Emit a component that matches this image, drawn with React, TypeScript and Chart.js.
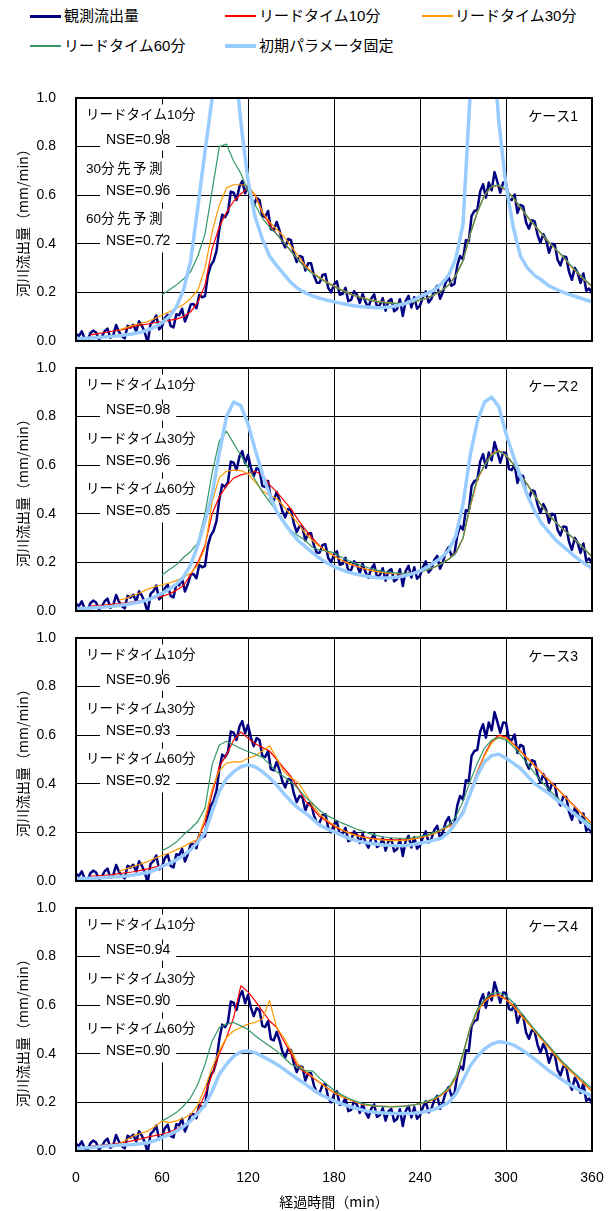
import React, { useEffect, useRef } from "react";
import { Chart, registerables } from "chart.js";

Chart.register(...registerables);

const FONT_LATIN = "'Liberation Sans', Arial, 'Noto Sans CJK JP', sans-serif";
const FONT_JP = "'Liberation Sans', 'Noto Sans CJK JP', sans-serif";
const FONT_CJK = "'Noto Sans CJK JP', sans-serif";

// ---------------- data ----------------
const X_TICKS = [0, 60, 120, 180, 240, 300, 360];
const Y_TICKS = [0, 0.2, 0.4, 0.6, 0.8, 1.0];

const SERIES_NAMES = ["観測流出量", "リードタイム10分", "リードタイム30分", "リードタイム60分", "初期パラメータ固定"];
const SERIES_COLORS = ["#000080", "#ff0000", "#ff9900", "#339966", "#99ccff"];

// observed discharge, every 2 min (0..360)
const OBS = [
  0.03, 0.02, 0.04, 0.01, 0.0, 0.032, 0.043, 0.035, 0.006, 0.018,
  0.04, 0.051, 0.013, 0.024, 0.066, 0.038, 0.02, 0.011, 0.063, 0.055,
  0.067, 0.039, 0.081, 0.063, 0.035, -0.007, 0.07, 0.082, 0.105, 0.048,
  0.06, 0.094, 0.108, 0.062, 0.056, 0.11, 0.106, 0.133, 0.08, 0.11,
  0.15, 0.152, 0.135, 0.19, 0.18, 0.185, 0.27, 0.31, 0.33, 0.37,
  0.46, 0.52, 0.51, 0.53, 0.615, 0.61, 0.58, 0.635, 0.658, 0.608,
  0.642, 0.59, 0.555, 0.588, 0.58, 0.515, 0.51, 0.535, 0.46, 0.455,
  0.49, 0.455, 0.41, 0.385, 0.42, 0.415, 0.36, 0.325, 0.35, 0.345,
  0.29, 0.32, 0.32, 0.27, 0.24, 0.24, 0.272, 0.275, 0.218, 0.2,
  0.233, 0.246, 0.19, 0.194, 0.219, 0.164, 0.169, 0.205, 0.191, 0.157,
  0.194, 0.16, 0.137, 0.174, 0.192, 0.14, 0.148, 0.176, 0.125, 0.164,
  0.173, 0.122, 0.132, 0.172, 0.103, 0.164, 0.186, 0.138, 0.18, 0.133,
  0.146, 0.18, 0.204, 0.159, 0.174, 0.21, 0.227, 0.174, 0.202, 0.242,
  0.263, 0.227, 0.235, 0.31, 0.35, 0.335, 0.415, 0.41, 0.515, 0.535,
  0.54, 0.615, 0.645, 0.59, 0.652, 0.62, 0.695, 0.655, 0.61, 0.652,
  0.65, 0.585, 0.58, 0.603, 0.527, 0.56, 0.554, 0.488, 0.462, 0.497,
  0.492, 0.438, 0.404, 0.44, 0.416, 0.363, 0.4, 0.397, 0.334, 0.311,
  0.348, 0.346, 0.284, 0.252, 0.301, 0.28, 0.239, 0.278, 0.207, 0.216,
  0.195,
];

// model series, every 5 min (0..360)
const N = null;
const C1_LT10 = [
  N, N, 0.025, 0.03, 0.035, 0.04, 0.045, 0.05, 0.06, 0.065, 0.07, 0.075,
  0.08, 0.085, 0.09, 0.1, 0.12, 0.16, 0.23, 0.38, 0.47, 0.53, 0.575, 0.605,
  0.63, 0.6, 0.53, 0.48, 0.44, 0.405, 0.37, 0.335, 0.305, 0.28, 0.26, 0.24,
  0.224, 0.21, 0.196, 0.185, 0.176, 0.168, 0.162, 0.158, 0.155, 0.154, 0.155, 0.16,
  0.168, 0.177, 0.19, 0.207, 0.23, 0.27, 0.33, 0.44, 0.53, 0.6, 0.636, 0.64,
  0.62, 0.59, 0.55, 0.51, 0.475, 0.44, 0.405, 0.375, 0.345, 0.31, 0.28, 0.25,
  0.224,
];
const C1_LT30 = [
  N, N, N, N, N, N, 0.045, 0.055, 0.065, 0.072, 0.08, 0.092,
  0.107, 0.12, 0.135, 0.15, 0.175, 0.21, 0.3, 0.45, 0.56, 0.63, 0.643, 0.643,
  0.64, 0.6, 0.53, 0.49, 0.46, 0.43, 0.39, 0.35, 0.31, 0.28, 0.262, 0.243,
  0.227, 0.212, 0.198, 0.187, 0.178, 0.17, 0.164, 0.16, 0.157, 0.155, 0.155, 0.16,
  0.168, 0.177, 0.19, 0.207, 0.23, 0.27, 0.33, 0.44, 0.53, 0.6, 0.636, 0.64,
  0.62, 0.59, 0.55, 0.51, 0.475, 0.44, 0.405, 0.375, 0.345, 0.31, 0.28, 0.25,
  0.224,
];
const C1_LT60 = [
  N, N, N, N, N, N, N, N, N, N, N, N,
  0.19, 0.21, 0.23, 0.255, 0.285, 0.35, 0.44, 0.62, 0.8, 0.81, 0.74, 0.69,
  0.615, 0.56, 0.505, 0.47, 0.44, 0.405, 0.37, 0.335, 0.3, 0.278, 0.258, 0.24,
  0.224, 0.21, 0.196, 0.186, 0.176, 0.168, 0.162, 0.158, 0.155, 0.155, 0.155, 0.16,
  0.168, 0.177, 0.19, 0.207, 0.23, 0.27, 0.33, 0.44, 0.53, 0.6, 0.636, 0.642,
  0.622, 0.592, 0.552, 0.512, 0.477, 0.442, 0.407, 0.377, 0.347, 0.312, 0.282, 0.252,
  0.226,
];
const C1_FIXED = [
  0.01, 0.01, 0.012, 0.014, 0.016, 0.019, 0.022, 0.026, 0.03, 0.036, 0.045, 0.058,
  0.075, 0.1, 0.14, 0.21, 0.33, 0.55, 0.78, 1.0, 1.25, 1.35, 1.2, 0.9,
  0.66, 0.51, 0.42, 0.35, 0.31, 0.275, 0.24, 0.215, 0.198, 0.186, 0.176, 0.168,
  0.162, 0.155, 0.149, 0.144, 0.141, 0.139, 0.137, 0.138, 0.141, 0.147, 0.155, 0.167,
  0.183, 0.196, 0.21, 0.235, 0.27, 0.34, 0.48, 1.02, 1.35, 1.4, 1.3, 0.9,
  0.64, 0.47, 0.35, 0.3, 0.27, 0.25, 0.227, 0.213, 0.2, 0.19, 0.18, 0.17,
  0.162,
];

const C2_LT10 = [
  N, N, 0.02, 0.022, 0.024, 0.027, 0.03, 0.034, 0.038, 0.043, 0.048, 0.054,
  0.06, 0.07, 0.085, 0.105, 0.15, 0.2, 0.27, 0.4, 0.47, 0.515, 0.547, 0.56,
  0.567, 0.574, 0.56, 0.52, 0.49, 0.455, 0.42, 0.375, 0.335, 0.3, 0.268, 0.245,
  0.227, 0.21, 0.196, 0.185, 0.176, 0.168, 0.162, 0.158, 0.155, 0.154, 0.154, 0.157,
  0.162, 0.169, 0.18, 0.195, 0.213, 0.24, 0.3, 0.43, 0.54, 0.6, 0.645, 0.66,
  0.64, 0.605, 0.56, 0.52, 0.475, 0.432, 0.395, 0.363, 0.335, 0.31, 0.283, 0.253,
  0.224,
];
const C2_LT30 = [
  N, N, N, N, N, N, 0.045, 0.052, 0.065, 0.075, 0.09, 0.1,
  0.108, 0.115, 0.125, 0.14, 0.155, 0.19, 0.26, 0.45, 0.55, 0.575, 0.58, 0.578,
  0.565, 0.53, 0.495, 0.475, 0.464, 0.43, 0.395, 0.36, 0.32, 0.29, 0.265, 0.245,
  0.227, 0.21, 0.196, 0.185, 0.176, 0.168, 0.162, 0.158, 0.155, 0.154, 0.154, 0.157,
  0.162, 0.169, 0.18, 0.195, 0.213, 0.24, 0.3, 0.43, 0.54, 0.6, 0.645, 0.66,
  0.64, 0.605, 0.56, 0.52, 0.475, 0.432, 0.395, 0.363, 0.335, 0.31, 0.283, 0.253,
  0.224,
];
const C2_LT60 = [
  N, N, N, N, N, N, N, N, N, N, N, N,
  0.148, 0.17, 0.19, 0.22, 0.245, 0.28, 0.4, 0.57, 0.7, 0.74, 0.69, 0.64,
  0.59, 0.54, 0.49, 0.45, 0.41, 0.37, 0.33, 0.31, 0.29, 0.262, 0.25, 0.247,
  0.24, 0.222, 0.208, 0.196, 0.186, 0.176, 0.168, 0.162, 0.158, 0.156, 0.155, 0.157,
  0.162, 0.169, 0.18, 0.195, 0.213, 0.238, 0.3, 0.437, 0.547, 0.6, 0.64, 0.657,
  0.643, 0.605, 0.56, 0.52, 0.475, 0.432, 0.395, 0.363, 0.335, 0.31, 0.283, 0.253,
  0.224,
];
const C2_FIXED = [
  0.01, 0.01, 0.012, 0.014, 0.016, 0.019, 0.023, 0.027, 0.032, 0.038, 0.046, 0.058,
  0.073, 0.09, 0.11, 0.14, 0.19, 0.27, 0.37, 0.48, 0.65, 0.8, 0.86, 0.845,
  0.77, 0.665, 0.565, 0.48, 0.41, 0.365, 0.325, 0.29, 0.265, 0.24, 0.217, 0.198,
  0.183, 0.17, 0.16, 0.152, 0.146, 0.141, 0.137, 0.136, 0.137, 0.14, 0.146, 0.154,
  0.165, 0.18, 0.2, 0.22, 0.25, 0.31, 0.44, 0.64, 0.78, 0.86, 0.88, 0.84,
  0.73, 0.64, 0.555, 0.475, 0.41, 0.36, 0.325, 0.29, 0.265, 0.24, 0.215, 0.195,
  0.176,
];

const C3_LT10 = [
  N, N, 0.02, 0.021, 0.023, 0.026, 0.03, 0.034, 0.038, 0.044, 0.05, 0.057,
  0.065, 0.074, 0.088, 0.105, 0.13, 0.175, 0.24, 0.36, 0.47, 0.52, 0.58, 0.613,
  0.588, 0.565, 0.55, 0.535, 0.5, 0.464, 0.43, 0.38, 0.33, 0.3, 0.265, 0.245,
  0.225, 0.21, 0.2, 0.19, 0.183, 0.177, 0.173, 0.171, 0.169, 0.169, 0.169, 0.173,
  0.178, 0.186, 0.196, 0.21, 0.224, 0.24, 0.29, 0.37, 0.45, 0.52, 0.575, 0.6,
  0.592, 0.565, 0.535, 0.505, 0.475, 0.445, 0.415, 0.385, 0.355, 0.325, 0.295, 0.265,
  0.238,
];
const C3_LT30 = [
  N, N, N, N, N, N, 0.04, 0.05, 0.06, 0.07, 0.08, 0.093,
  0.105, 0.115, 0.128, 0.142, 0.158, 0.172, 0.26, 0.38, 0.455, 0.485, 0.49, 0.49,
  0.505, 0.515, 0.535, 0.557, 0.505, 0.45, 0.425, 0.405, 0.36, 0.31, 0.275, 0.25,
  0.23, 0.212, 0.198, 0.188, 0.18, 0.175, 0.171, 0.168, 0.166, 0.166, 0.168, 0.172,
  0.178, 0.186, 0.196, 0.21, 0.224, 0.24, 0.285, 0.365, 0.445, 0.515, 0.568, 0.593,
  0.588, 0.562, 0.533, 0.503, 0.473, 0.443, 0.413, 0.383, 0.353, 0.323, 0.293, 0.263,
  0.236,
];
const C3_LT60 = [
  N, N, N, N, N, N, N, N, N, N, N, N,
  0.125, 0.14, 0.16, 0.19, 0.215, 0.245, 0.3, 0.48, 0.56, 0.575, 0.56, 0.545,
  0.533, 0.522, 0.51, 0.48, 0.45, 0.43, 0.408, 0.38, 0.345, 0.32, 0.29, 0.27,
  0.255, 0.24, 0.228, 0.215, 0.205, 0.195, 0.187, 0.181, 0.178, 0.176, 0.176, 0.179,
  0.183, 0.19, 0.2, 0.213, 0.23, 0.265, 0.327, 0.41, 0.485, 0.547, 0.58, 0.59,
  0.58, 0.553, 0.52, 0.482, 0.443, 0.408, 0.375, 0.347, 0.32, 0.295, 0.272, 0.25,
  0.23,
];
const C3_FIXED = [
  0.01, 0.01, 0.011, 0.012, 0.014, 0.016, 0.018, 0.021, 0.025, 0.03, 0.035, 0.045,
  0.06, 0.072, 0.087, 0.105, 0.128, 0.16, 0.2, 0.285, 0.37, 0.42, 0.45, 0.47,
  0.478, 0.47, 0.45, 0.425, 0.395, 0.36, 0.327, 0.3, 0.28, 0.255, 0.23, 0.215,
  0.203, 0.19, 0.176, 0.167, 0.16, 0.155, 0.151, 0.148, 0.146, 0.145, 0.146, 0.15,
  0.155, 0.161, 0.169, 0.176, 0.2, 0.24, 0.28, 0.36, 0.435, 0.49, 0.516, 0.522,
  0.505, 0.485, 0.464, 0.432, 0.4, 0.38, 0.36, 0.335, 0.315, 0.29, 0.265, 0.24,
  0.214,
];

const C4_LT10 = [
  N, N, 0.02, 0.022, 0.025, 0.028, 0.032, 0.037, 0.043, 0.05, 0.057, 0.063,
  0.069, 0.078, 0.09, 0.105, 0.124, 0.165, 0.234, 0.316, 0.4, 0.467, 0.55, 0.68,
  0.655, 0.618, 0.577, 0.536, 0.508, 0.453, 0.4, 0.343, 0.323, 0.302, 0.282, 0.26,
  0.24, 0.226, 0.213, 0.202, 0.192, 0.188, 0.185, 0.184, 0.183, 0.184, 0.185, 0.189,
  0.195, 0.203, 0.213, 0.23, 0.254, 0.302, 0.4, 0.508, 0.577, 0.618, 0.639, 0.643,
  0.625, 0.6, 0.563, 0.53, 0.495, 0.46, 0.426, 0.39, 0.357, 0.33, 0.302, 0.274,
  0.247,
];
const C4_LT30 = [
  N, N, N, N, N, N, 0.03, 0.045, 0.062, 0.072, 0.082, 0.1,
  0.124, 0.117, 0.124, 0.135, 0.15, 0.19, 0.26, 0.343, 0.412, 0.467, 0.495, 0.508,
  0.522, 0.529, 0.543, 0.62, 0.508, 0.467, 0.412, 0.357, 0.33, 0.305, 0.282, 0.26,
  0.24, 0.226, 0.213, 0.202, 0.192, 0.188, 0.185, 0.184, 0.183, 0.184, 0.185, 0.189,
  0.195, 0.203, 0.213, 0.23, 0.254, 0.3, 0.395, 0.505, 0.575, 0.615, 0.636, 0.64,
  0.622, 0.597, 0.56, 0.527, 0.492, 0.457, 0.423, 0.388, 0.355, 0.328, 0.3, 0.272,
  0.245,
];
const C4_LT60 = [
  N, N, N, N, N, N, N, N, N, N, N, N,
  0.124, 0.14, 0.158, 0.185, 0.22, 0.275, 0.357, 0.453, 0.508, 0.522, 0.529, 0.515,
  0.5, 0.474, 0.453, 0.432, 0.412, 0.385, 0.357, 0.343, 0.33, 0.33, 0.3, 0.275,
  0.25, 0.232, 0.217, 0.205, 0.195, 0.19, 0.185, 0.183, 0.181, 0.183, 0.185, 0.189,
  0.195, 0.205, 0.217, 0.235, 0.26, 0.309, 0.4, 0.508, 0.584, 0.625, 0.648, 0.652,
  0.639, 0.611, 0.574, 0.537, 0.5, 0.466, 0.433, 0.398, 0.364, 0.336, 0.309, 0.283,
  0.257,
];
const C4_FIXED = [
  0.01, 0.012, 0.014, 0.017, 0.02, 0.022, 0.024, 0.026, 0.027, 0.03, 0.034, 0.043,
  0.055, 0.067, 0.082, 0.1, 0.124, 0.155, 0.19, 0.247, 0.316, 0.357, 0.39, 0.408,
  0.412, 0.405, 0.39, 0.374, 0.357, 0.337, 0.316, 0.295, 0.275, 0.254, 0.234, 0.22,
  0.206, 0.195, 0.185, 0.176, 0.168, 0.162, 0.158, 0.156, 0.154, 0.154, 0.154, 0.155,
  0.158, 0.164, 0.172, 0.184, 0.2, 0.234, 0.29, 0.35, 0.39, 0.42, 0.44, 0.45,
  0.446, 0.437, 0.42, 0.4, 0.378, 0.354, 0.33, 0.31, 0.29, 0.272, 0.254, 0.24,
  0.227,
];

const P1_TEXT = ["リードタイム10分", "NSE=0.98", "30分先予測", "NSE=0.96", "60分先予測", "NSE=0.72"];
const P2_TEXT = ["リードタイム10分", "NSE=0.98", "リードタイム30分", "NSE=0.96", "リードタイム60分", "NSE=0.85"];
const P3_TEXT = ["リードタイム10分", "NSE=0.96", "リードタイム30分", "NSE=0.93", "リードタイム60分", "NSE=0.92"];
const P4_TEXT = ["リードタイム10分", "NSE=0.94", "リードタイム30分", "NSE=0.90", "リードタイム60分", "NSE=0.90"];
const CASE_LABELS = ["ケース1", "ケース2", "ケース3", "ケース4"];

const Y_TITLE = "河川流出量（mm/min）";
const X_TITLE = "経過時間（min）";

const T_OBS = OBS.map((_, i) => i * 2);
const T_MOD = C1_FIXED.map((_, i) => i * 5);

type Series = (number | null)[];
type PanelDef = { caseLabel: string; text: string[]; lt10: Series; lt30: Series; lt60: Series; fixed: Series };

const PANELS: PanelDef[] = [
  { caseLabel: CASE_LABELS[0], text: P1_TEXT, lt10: C1_LT10, lt30: C1_LT30, lt60: C1_LT60, fixed: C1_FIXED },
  { caseLabel: CASE_LABELS[1], text: P2_TEXT, lt10: C2_LT10, lt30: C2_LT30, lt60: C2_LT60, fixed: C2_FIXED },
  { caseLabel: CASE_LABELS[2], text: P3_TEXT, lt10: C3_LT10, lt30: C3_LT30, lt60: C3_LT60, fixed: C3_FIXED },
  { caseLabel: CASE_LABELS[3], text: P4_TEXT, lt10: C4_LT10, lt30: C4_LT30, lt60: C4_LT60, fixed: C4_FIXED },
];

// --------------- component ---------------
const TEXT_Y = [17.5, 41.7, 71, 93.4, 121.7, 143.4];

function drawLabel(ctx: CanvasRenderingContext2D, txt: string, x: number, y: number) {
  // leading digits tight, following kanji spaced (as in reference "30分先予測")
  const m = /^(\d+)(.*)$/.exec(txt);
  if (m) {
    (ctx as any).letterSpacing = "0px";
    ctx.fillText(m[1], x, y);
    const w0 = ctx.measureText(m[1]).width;
    (ctx as any).letterSpacing = "2.5px";
    ctx.fillText(m[2], x + w0, y);
    const w1 = ctx.measureText(m[2]).width;
    (ctx as any).letterSpacing = "0px";
    return w0 + w1;
  }
  (ctx as any).letterSpacing = "0px";
  ctx.fillText(txt, x, y);
  return ctx.measureText(txt).width;
}

function measureLabel(ctx: CanvasRenderingContext2D, txt: string) {
  const m = /^(\d+)(.*)$/.exec(txt);
  if (m) {
    (ctx as any).letterSpacing = "0px";
    const w0 = ctx.measureText(m[1]).width;
    (ctx as any).letterSpacing = "2.5px";
    const w1 = ctx.measureText(m[2]).width;
    (ctx as any).letterSpacing = "0px";
    return w0 + w1;
  }
  (ctx as any).letterSpacing = "0px";
  return ctx.measureText(txt).width;
}

function Panel({ def, top, height, showX }: { def: PanelDef; top: number; height: number; showX: boolean }) {
  const ref = useRef<HTMLCanvasElement>(null);
  useEffect(() => {
    const canvas = ref.current!;
    const mk = (t: number[], v: Series) => v.map((y, i) => ({ x: t[i], y }));

    const annot = {
      id: "annot",
      afterDatasetsDraw(chart: any) {
        const ctx: CanvasRenderingContext2D = chart.ctx;
        const a = chart.chartArea;
        ctx.save();
        ctx.textBaseline = "middle";
        ctx.textAlign = "left";
        def.text.forEach((txt, i) => {
          const isNse = i % 2 === 1;
          ctx.font = isNse ? `14px ${FONT_LATIN}` : `13.5px ${FONT_JP}`;
          const x = a.left + (isNse ? 30 : 10);
          const y = a.top + TEXT_Y[i];
          const w = isNse ? ctx.measureText(txt).width : measureLabel(ctx, txt);
          ctx.fillStyle = "#ffffff";
          if (isNse) ctx.fillRect(x - 6, y - 5, w + 12, 16);
          else ctx.fillRect(x - 4, y - 11, w + 8, 25);
          ctx.fillStyle = "#000000";
          if (isNse) ctx.fillText(txt, x, y);
          else drawLabel(ctx, txt, x, y);
        });
        (ctx as any).letterSpacing = "0px";
        ctx.font = `14px ${FONT_JP}`;
        ctx.textAlign = "right";
        ctx.fillText(def.caseLabel, a.right - 14, a.top + 19.5);

        ctx.strokeStyle = "#000";
        ctx.lineWidth = 2;
        ctx.strokeRect(a.left, a.top, a.right - a.left, a.bottom - a.top);
        ctx.restore();
      },
    };

    const chart = new Chart(canvas, {
      type: "line",
      data: {
        datasets: [
          { label: SERIES_NAMES[0], data: mk(T_OBS, OBS), borderColor: SERIES_COLORS[0], borderWidth: 2.5, order: 5 },
          { label: SERIES_NAMES[1], data: mk(T_MOD, def.lt10), borderColor: SERIES_COLORS[1], borderWidth: 1.2, order: 4 },
          { label: SERIES_NAMES[2], data: mk(T_MOD, def.lt30), borderColor: SERIES_COLORS[2], borderWidth: 1.2, order: 3 },
          { label: SERIES_NAMES[3], data: mk(T_MOD, def.lt60), borderColor: SERIES_COLORS[3], borderWidth: 1.2, order: 2 },
          { label: SERIES_NAMES[4], data: mk(T_MOD, def.fixed), borderColor: SERIES_COLORS[4], borderWidth: 3.5, order: 1 },
        ] as any,
      },
      options: {
        animation: false,
        responsive: false,
        maintainAspectRatio: false,
        events: [],
        elements: {
          point: { radius: 0 },
          line: { tension: 0, fill: false, borderJoinStyle: "round" },
        },
        layout: { padding: { left: 0, right: 24, top: 20, bottom: showX ? 0 : 7 } },
        plugins: { legend: { display: false }, tooltip: { enabled: false } },
        scales: {
          x: {
            type: "linear",
            min: 0,
            max: 360,
            afterBuildTicks: (s: any) => { s.ticks = X_TICKS.map((v) => ({ value: v })); },
            ticks: { display: showX, font: { size: 14, family: FONT_LATIN }, color: "#000", padding: 19, maxRotation: 0, autoSkip: false },
            grid: { color: "#000", lineWidth: 1, drawTicks: false },
            border: { display: false },
            title: { display: showX, text: X_TITLE, font: { size: 14, family: FONT_CJK }, color: "#000", padding: { top: 0, bottom: 1 } },
            afterFit: (s: any) => { s.height = showX ? 60 : 0; s.paddingLeft = 0; s.paddingRight = 0; },
          },
          y: {
            min: 0,
            max: 1,
            afterBuildTicks: (s: any) => { s.ticks = Y_TICKS.map((v) => ({ value: v })); },
            ticks: { callback: (v: any) => Number(v).toFixed(1), font: { size: 14, family: FONT_LATIN }, color: "#000", padding: 20 },
            grid: { color: "#000", lineWidth: 1, drawTicks: false },
            border: { display: false },
            title: { display: true, text: Y_TITLE, font: { size: 14, family: FONT_CJK }, color: "#000", padding: { top: 14, bottom: 0 } },
            afterFit: (s: any) => { s.width = 76; s.paddingTop = 0; s.paddingBottom = 0; },
          },
        },
      } as any,
      plugins: [annot as any],
    });
    return () => chart.destroy();
  }, [def, showX]);
  return (
    <canvas
      ref={ref}
      width={616}
      height={height}
      style={{ position: "absolute", left: 0, top, width: 616, height, display: "block" }}
    />
  );
}

const LEGEND_POS = [
  { line: 30, text: 64, y: 16 },
  { line: 225, text: 259, y: 16 },
  { line: 422, text: 455, y: 16 },
  { line: 30, text: 64, y: 46 },
  { line: 225, text: 259, y: 46 },
];
const LEGEND_WIDTHS = [3, 1.5, 1.5, 1.5, 4];

export default function App() {
  return (
    <div style={{ position: "absolute", left: 0, top: 0, width: 616, height: 1211, background: "#fff", overflow: "hidden" }}>
      {SERIES_NAMES.map((name, i) => (
        <React.Fragment key={name}>
          <div
            style={{
              position: "absolute",
              left: LEGEND_POS[i].line,
              top: LEGEND_POS[i].y - LEGEND_WIDTHS[i] / 2,
              width: 31,
              height: LEGEND_WIDTHS[i],
              background: SERIES_COLORS[i],
            }}
          />
          <div
            style={{
              position: "absolute",
              left: LEGEND_POS[i].text,
              top: LEGEND_POS[i].y - 10,
              height: 20,
              lineHeight: "20px",
              fontSize: 15,
              fontFamily: FONT_JP,
              color: "#000",
              whiteSpace: "nowrap",
            }}
          >
            {name}
          </div>
        </React.Fragment>
      ))}
      {PANELS.map((def, i) => (
        <Panel key={i} def={def} top={78 + 270 * i} height={i === 3 ? 323 : 270} showX={i === 3} />
      ))}
    </div>
  );
}
